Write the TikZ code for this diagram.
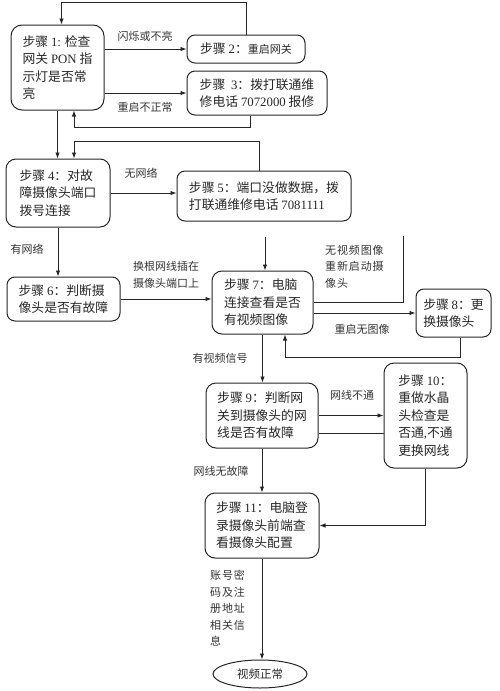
\documentclass[tikz,border=0pt]{standalone}
\usepackage{fontspec}
\setmainfont{Liberation Serif}
\newfontfamily\cjk{Noto Sans CJK SC}
\newfontfamily\cjksp{Noto Sans CJK SC}[LetterSpace=8]
\newcommand\ltn[1]{{\rmfamily #1}}
\usetikzlibrary{arrows.meta,shapes.geometric,calc}
\tikzset{
  stepbox/.style={draw=black!85, line width=1pt, rounded corners=8pt, inner sep=0pt,
    align=left, text=black!85, font=\fontsize{12.8}{17.5}\selectfont\cjk},
  lbl/.style={inner sep=0pt, align=left, text=black!80, font=\fontsize{11}{16.5}\selectfont\cjk},
  lblsp/.style={inner sep=0pt, align=left, text=black!80, font=\fontsize{11}{16.5}\selectfont\cjksp},
  conn/.style={draw=black!85, line width=0.9pt},
  arr/.style={conn, -{Latex[length=6pt,width=4.5pt]}},
}
\begin{document}
\begin{tikzpicture}[x=1pt,y=-1pt]
\useasboundingbox (0,0) rectangle (500,691);
% boxes
\node[stepbox, rounded corners=11pt, minimum width=93pt, minimum height=85pt] (b1) at (57.5,67.5)
  {步骤 \ltn{1:} 检查\\网关 \ltn{PON} 指\\示灯是否常\\亮};
\node[stepbox, minimum width=118pt, minimum height=28pt] (b2) at (246,49)
  {步骤 \ltn{2}：{\fontsize{11}{14}\selectfont 重启网关}};
\node[stepbox, minimum width=140pt, minimum height=44pt] (b3) at (257,93)
  {步骤\ \ \ltn{3}：拨打联通维\\修电话 \ltn{7072000} 报修};
\node[stepbox, rounded corners=10pt, minimum width=104pt, minimum height=68pt] (b4) at (58,193)
  {步骤 \ltn{4}：对故\\障摄像头端口\\拨号连接};
\node[stepbox, minimum width=174pt, minimum height=50pt] (b5) at (264,196)
  {步骤 \ltn{5}：端口没做数据，拨\\打联通维修电话 \ltn{7081111}};
\node[stepbox, minimum width=113pt, minimum height=44pt] (b6) at (63.5,299)
  {步骤 \ltn{6}：判断摄\\像头是否有故障};
\node[stepbox, rounded corners=10pt, minimum width=101pt, minimum height=63pt] (b7) at (262.5,302.5)
  {步骤 \ltn{7}：电脑\\连接查看是否\\有视频图像};
\node[stepbox, minimum width=75pt, minimum height=48pt] (b8) at (453.5,313)
  {步骤 \ltn{8}：更\\换摄像头};
\node[stepbox, rounded corners=10pt, minimum width=112pt, minimum height=65pt] (b9) at (262,415.5)
  {步骤 \ltn{9}：判断网\\关到摄像头的网\\线是否有故障};
\node[stepbox, rounded corners=10pt, minimum width=83pt, minimum height=105pt] (b10) at (425.5,415.5)
  {步骤 \ltn{10}：\\重做水晶\\头检查是\\否通\ltn{,}不通\\更换网线};
\node[stepbox, rounded corners=10pt, minimum width=114pt, minimum height=65pt] (b11) at (262,525.5)
  {步骤 \ltn{11}：电脑登\\录摄像头前端查\\看摄像头配置};
\node[draw=black!85, line width=1pt, ellipse, inner sep=0pt, minimum width=94pt, minimum height=28pt,
  text=black!85, font=\fontsize{11.5}{14}\selectfont\cjk] (e) at (260,674) {视频正常};
% free ends
\coordinate (f1) at (265,237);
\coordinate (f2) at (403,236);
\coordinate (l16) at ([yshift=-17.5pt]b9.east);
% connectors
\draw[arr] (b2.north) -- (b2.north |- 0,2) -| ([xshift=4pt]b1.north);
\draw[arr] (b1.east |- b2.west) -- (b2.west);
\draw[arr] (b1.east |- b3.west) -- (b3.west);
\draw[arr] ([xshift=-7pt]b3.south) -- ++(0,12) -| ([xshift=16.5pt]b1.south);
\draw[arr] (b1.south) -- (b1.south |- b4.north);
\draw[arr] ([xshift=-5pt]b5.north) -- ++(0,-29) -| ([xshift=16pt]b4.north);
\draw[arr] (b4.east) -- (b4.east -| b5.west);
\draw[arr] (b4.south) -- (b4.south |- b6.north);
\draw[arr] (b6.east) -- (b6.east -| b7.west);
\draw[arr] (f1) -- (f1 |- b7.north);
\draw[conn] (b7.east) -| (f2);
\draw[arr] (b8.west -| b7.east) -- (b8.west);
\draw[arr] ([xshift=6.5pt]b8.south) -- ++(0,20) -| ([xshift=22.5pt]b7.south);
\draw[arr] (b7.south) -- (b7.south |- b9.north);
\draw[arr] (b9.east) -- (b9.east -| b10.west);
\draw[conn] (l16) -- (l16 -| b10.west);
\draw[arr] (b10.south) |- (b11.east);
\draw[arr] (b9.south) -- (b9.south |- b11.north);
\draw[arr] (b11.south) -- (b11.south |- e.north);
% labels
\node[lbl] (t1) at (145,36) {闪烁或不亮};
\node[lbl] (t2) at (145,107) {重启不正常};
\node[lbl] (t3) at (141,173) {无网络};
\node[lbl] (t4) at (27,249) {有网络};
\node[lbl] (t5) at (166,275) {换根网线插在\\摄像头端口上};
\node[lblsp, anchor=north west] (t6) at (325,245) {无视频图像\\重新启动摄\\像头};
\node[lbl] (t7) at (362,329) {重启无图像};
\node[lbl] (t8) at (220,358) {有视频信号};
\node[lbl] (t9) at (352,395) {网线不通};
\node[lbl] (t10) at (221,471) {网线无故障};
\node[lblsp, anchor=north west] (t11) at (210,570) {账号密\\码及注\\册地址\\相关信\\息};
\end{tikzpicture}
\end{document}
